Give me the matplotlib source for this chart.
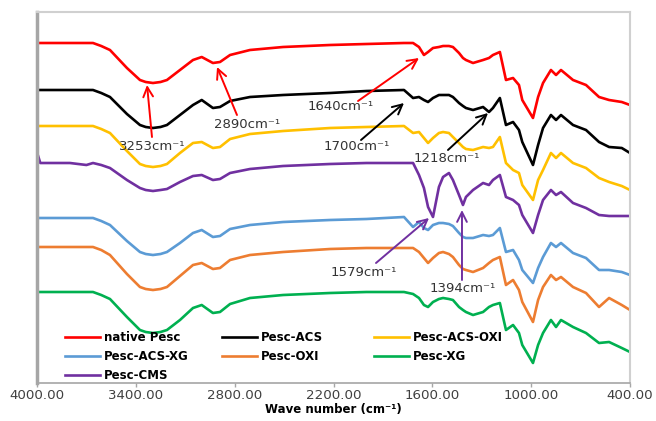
import matplotlib
matplotlib.use("Agg")
import matplotlib.pyplot as plt

# ---------------- data ----------------
wavenumber = [4000, 3995, 3980, 3900, 3800, 3700, 3660, 3610, 3557, 3454, 3375, 3340, 3296,
              3250, 3211, 3132, 3053, 3000, 2932, 2889, 2828, 2707, 2506, 2221, 2000, 1772,
              1717, 1681, 1651, 1626, 1596, 1560, 1535, 1499, 1475, 1438, 1414, 1396, 1353,
              1292, 1256, 1232, 1190, 1153, 1110, 1074, 1054, 989, 958, 928, 880,
              849, 819, 746, 667, 588, 527, 450, 400]

native_pesc = [357, 357, 357, 357, 357, 357, 357, 354,
               350, 332, 320, 318, 317, 318, 320, 330, 340, 343, 337, 338, 345, 350, 353, 355, 356, 357,
               357, 353, 345, 348, 352, 353, 354, 354, 353, 347, 342, 340, 337, 340, 342, 345,
               348, 320, 322, 315, 300, 282, 303, 317, 330, 325, 330, 320, 315, 303, 300, 298, 295]

pesc_acs = [310, 310, 310, 310, 310, 310, 310, 307,
            303, 286, 275, 273, 272, 273, 275, 285, 295, 300, 292, 293, 299, 303, 305, 307, 309, 310,
            302, 303, 300, 298, 302, 305, 305, 305, 303, 297, 294, 292, 290, 293, 288, 292,
            302, 275, 278, 270, 258, 235, 255, 272, 285, 280, 285, 275, 270, 258, 253, 252, 247]

pesc_acs_oxi = [274, 274, 274, 274, 274, 274, 274, 271,
                267, 249, 236, 234, 233, 234, 236, 247, 257, 258, 252, 253, 261, 266, 269, 272, 273, 274,
                267, 268, 262, 257, 262, 267, 268, 267, 263, 257, 253, 251, 250, 253, 252, 253,
                263, 237, 230, 227, 215, 200, 220, 230, 247, 242, 247, 237, 232, 222, 218, 214, 210]

pesc_cms = [207, 245, 237, 237, 237, 235, 237, 235,
            232, 220, 212, 210, 209, 210, 211, 218, 224, 225, 220, 221, 227, 231, 234, 236, 237, 237,
            237, 225, 212, 193, 183, 213, 223, 227, 220, 205, 195, 203, 210, 217, 215, 220,
            225, 203, 200, 195, 185, 167, 185, 200, 210, 205, 208, 197, 192, 185, 184, 184, 184]

pesc_acs_xg = [182, 182, 182, 182, 182, 182, 182, 179,
               175, 159, 148, 146, 145, 146, 148, 157, 167, 170, 163, 164, 171, 175, 178, 180, 181, 183,
               173, 178, 172, 170, 175, 177, 177, 176, 174, 167, 163, 162, 162, 165, 164, 165,
               172, 148, 150, 140, 130, 117, 132, 143, 157, 153, 157, 147, 142, 130, 130, 128, 125]

pesc_oxi = [153, 153, 153, 153, 153, 153, 153, 150,
            145, 126, 113, 111, 110, 111, 113, 124, 135, 137, 131, 132, 140, 145, 148, 151, 152, 152,
            152, 148, 142, 137, 142, 147, 148, 146, 143, 135, 131, 130, 128, 132, 137, 140,
            143, 115, 120, 110, 98, 78, 100, 113, 125, 120, 123, 113, 107, 93, 102, 95, 90]

pesc_xg = [108, 108, 108, 108, 108, 108, 108, 105,
           101, 83, 70, 68, 67, 68, 70, 80, 92, 95, 87, 88, 96, 102, 105, 107, 108, 108,
           106, 102, 95, 93, 98, 101, 102, 101, 100, 93, 90, 88, 85, 88, 93, 95,
           97, 70, 75, 67, 55, 37, 55, 67, 80, 73, 80, 73, 67, 57, 58, 52, 48]

series_names = ["native Pesc", "Pesc-ACS", "Pesc-ACS-OXI", "Pesc-CMS",
                "Pesc-ACS-XG", "Pesc-OXI", "Pesc-XG"]
series_values = [native_pesc, pesc_acs, pesc_acs_oxi, pesc_cms,
                 pesc_acs_xg, pesc_oxi, pesc_xg]
series_colors = ["#FF0000", "#000000", "#FFC000", "#7030A0",
                 "#5B9BD5", "#ED7D31", "#00B050"]

x_ticks = [4000, 3400, 2800, 2200, 1600, 1000, 400]
x_tick_labels = ["4000.00", "3400.00", "2800.00", "2200.00", "1600.00", "1000.00", "400.00"]

# annotations: label, text position, arrow tail, arrow head, colour
annotations = [
    ("3253cm⁻¹", (3302, 253), (3302, 263), (3332, 315), "#FF0000"),
    ("2890cm⁻¹", (2725, 276), (2786, 285), (2907, 333), "#FF0000"),
    ("1640cm⁻¹", (2155, 293), (2051, 299), (1681, 342), "#FF0000"),
    ("1700cm⁻¹", (2057, 253), (2033, 260), (1772, 297), "#000000"),
    ("1218cm⁻¹", (1511, 242), (1505, 250), (1262, 287), "#000000"),
    ("1579cm⁻¹", (2015, 128), (1942, 137), (1620, 182), "#7030A0"),
    ("1394cm⁻¹", (1414, 112), (1420, 120), (1420, 190), "#7030A0"),
]

# ---------------- figure ----------------
W, H = 656, 421
fig = plt.figure(figsize=(W / 100, H / 100), dpi=100)
ax = fig.add_axes([37 / W, 1 - 383 / H, 593 / W, 371 / H])

lines = {}
for name, vals, col in zip(series_names, series_values, series_colors):
    ln, = ax.plot(wavenumber, vals, color=col, lw=1.9, solid_joinstyle="round",
                  label=name)
    lines[name] = ln

ax.set_xlim(4000, 400)
ax.set_ylim(17, 388)
ax.set_xticks(x_ticks)
ax.set_xticklabels(x_tick_labels, fontsize=9.6, color="#404040")
ax.set_yticks([])
ax.tick_params(axis="x", direction="out", length=3, width=1, color="#A6A6A6", pad=1)
ax.set_xlabel("Wave number (cm⁻¹)", fontsize=8.5, fontweight="bold", labelpad=1)

for side in ["top", "right"]:
    ax.spines[side].set_color("#D0D0D0")
    ax.spines[side].set_linewidth(1.5)
ax.spines["left"].set_color("#A6A6A6")
ax.spines["left"].set_linewidth(2.5)
ax.spines["bottom"].set_color("#A6A6A6")
ax.spines["bottom"].set_linewidth(1.2)

for label, tpos, tail, head, col in annotations:
    ax.annotate("", xy=head, xytext=tail,
                arrowprops=dict(arrowstyle="->,head_length=0.5,head_width=0.25",
                                color=col, lw=1.4, mutation_scale=14,
                                shrinkA=0, shrinkB=0))
    ax.text(tpos[0], tpos[1], label, fontsize=9.5, color="#333333",
            ha="center", va="center")

# legend: three columns placed like the reference
legend_cols = [["native Pesc", "Pesc-ACS-XG", "Pesc-CMS"],
               ["Pesc-ACS", "Pesc-OXI"],
               ["Pesc-ACS-OXI", "Pesc-XG"]]
col_x = [65, 222, 374]
for names, x0 in zip(legend_cols, col_x):
    fig.legend([lines[n] for n in names], names, loc="upper left",
               bbox_to_anchor=(x0 / W, 1 - 331 / H),
               bbox_transform=fig.transFigure, frameon=False,
               prop=dict(size=8.5, weight="bold"), handlelength=3.0,
               handletextpad=0.3, labelspacing=0.52, borderpad=0,
               borderaxespad=0)

fig.savefig("out.png", dpi=100)
